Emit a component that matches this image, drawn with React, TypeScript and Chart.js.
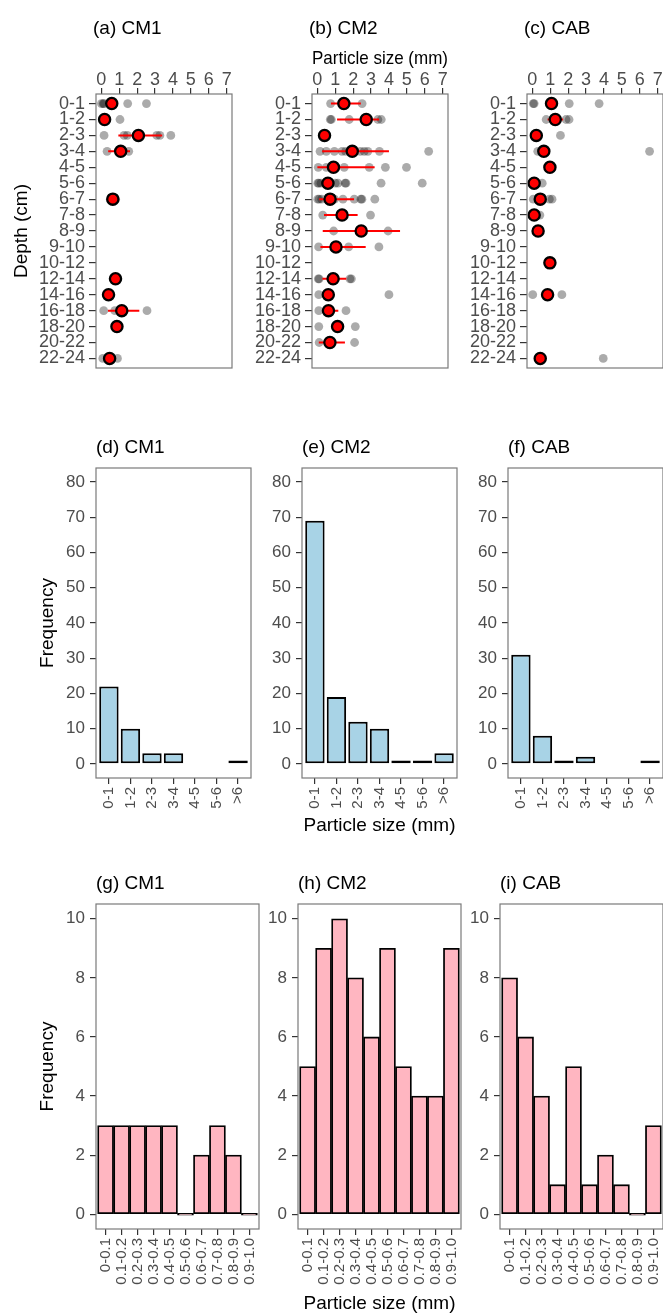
import React, { useEffect, useRef } from 'react';
import { Chart, registerables } from 'chart.js';

Chart.register(...registerables);

const FONT = '"Liberation Sans", Arial, Helvetica, sans-serif';
const TICK = '#4d4d4d';
Chart.defaults.font.family = FONT;
Chart.defaults.color = TICK;

// ---------- data: panels (a)-(c) ----------
const depthLabels = ['0-1', '1-2', '2-3', '3-4', '4-5', '5-6', '6-7', '7-8', '8-9', '9-10', '10-12', '12-14', '14-16', '16-18', '18-20', '20-22', '22-24'];
const sizeTicks = [0, 1, 2, 3, 4, 5, 6, 7];

const cm1Mean = [0.58, 0.18, 2.07, 1.08, null, null, 0.64, null, null, null, null, 0.79, 0.4, 1.14, 0.87, null, 0.46];
const cm1Lo = [null, null, 0.95, 0.38, null, null, null, null, null, null, null, null, null, 0.37, null, null, null];
const cm1Hi = [null, null, 3.4, 1.6, null, null, null, null, null, null, null, null, null, 2.12, null, null, null];
const cm1Particles = [
  [0.0, 0.1, 0.15, 1.47, 2.52], [0.18, 1.04], [0.15, 1.27, 1.45, 3.1, 3.27, 3.88], [0.32, 1.0, 1.53], [], [],
  [0.5, 0.64, 0.8], [], [], [], [], [0.79], [0.4], [0.13, 0.75, 2.55], [0.87], [], [0.08, 0.35, 0.46, 0.9],
];

const cm2Mean = [1.48, 2.73, 0.4, 1.95, 0.9, 0.59, 0.71, 1.38, 2.45, 1.04, null, 0.88, 0.61, 0.62, 1.13, 0.7, null];
const cm2Lo = [0.76, 1.1, null, 0.27, 0.0, null, 0.1, 0.37, 0.3, 0.17, null, 0.28, null, 0.3, null, 0.08, null];
const cm2Hi = [2.43, 3.45, null, 4.0, 3.2, null, 2.05, 2.25, 4.62, 2.7, null, 1.62, null, 1.17, null, 1.54, null];
const cm2Particles = [
  [0.74, 1.4, 2.5], [0.72, 0.78, 1.78, 3.38, 3.57], [0.4], [0.15, 0.5, 0.95, 1.38, 1.58, 2.4, 2.62, 2.82, 3.47, 6.22],
  [0.05, 0.5, 1.5, 2.9, 3.8, 4.98], [0.02, 0.08, 0.2, 0.45, 1.0, 1.15, 1.55, 1.6, 3.56, 5.86],
  [0.02, 0.1, 0.24, 0.96, 1.43, 2.06, 2.43, 2.49, 3.21], [0.3, 1.4, 2.97], [0.91, 2.45, 3.95], [0.07, 1.0, 1.75, 3.44],
  [], [0.05, 0.1, 0.9, 1.82, 1.9], [0.08, 0.6, 4.0], [0.08, 0.6, 1.6], [0.08, 1.12, 2.12], [0.1, 0.7, 2.08], [],
];

const cabMean = [1.07, 1.28, 0.22, 0.64, 0.98, 0.1, 0.44, 0.1, 0.32, null, 0.98, null, 0.85, null, null, null, 0.44];
const cabLo = [null, 0.85, null, null, null, null, null, null, null, null, null, null, null, null, null, null, null];
const cabHi = [null, 1.72, null, null, null, null, null, null, null, null, null, null, null, null, null, null, null];
const cabParticles = [
  [0.05, 0.1, 2.06, 3.73], [0.77, 1.2, 1.88, 2.05], [0.22, 1.57], [0.3, 0.64, 6.55], [0.98], [0.1, 0.55],
  [0.05, 0.44, 0.95, 1.1], [0.1, 0.42], [0.32], [], [0.98], [], [0.02, 0.85, 1.65], [], [], [], [0.44, 3.96],
];

// ---------- data: panels (d)-(f) ----------
const coarseLabels = ['0-1', '1-2', '2-3', '3-4', '4-5', '5-6', '>6'];
const coarseFreqTicks = [0, 10, 20, 30, 40, 50, 60, 70, 80];
const cm1Coarse = [22, 10, 3, 3, 0, 0, 1];
const cm2Coarse = [69, 19, 12, 10, 1, 1, 3];
const cabCoarse = [31, 8, 1, 2, 0, 0, 1];

// ---------- data: panels (g)-(i) ----------
const fineLabels = ['0-0.1', '0.1-0.2', '0.2-0.3', '0.3-0.4', '0.4-0.5', '0.5-0.6', '0.6-0.7', '0.7-0.8', '0.8-0.9', '0.9-1.0'];
const fineFreqTicks = [0, 2, 4, 6, 8, 10];
const cm1Fine = [3, 3, 3, 3, 3, 0, 2, 3, 2, 0];
const cm2Fine = [5, 9, 10, 8, 6, 9, 5, 4, 4, 9];
const cabFine = [8, 6, 4, 1, 5, 1, 2, 1, 0, 3];

// ---------- helpers ----------
const boxPlugin = {
  id: 'panelBox',
  afterDatasetsDraw(chart: any) {
    const { ctx, chartArea: a } = chart;
    ctx.save();
    ctx.strokeStyle = '#7a7a7a';
    ctx.lineWidth = 1.2;
    ctx.strokeRect(a.left, a.top, a.right - a.left, a.bottom - a.top);
    ctx.restore();
  },
};

const titlePlugin = {
  id: 'panelTitle',
  afterDraw(chart: any, _args: any, opts: any) {
    const { ctx, chartArea: a } = chart;
    ctx.save();
    ctx.font = `19px ${FONT}`;
    ctx.fillStyle = '#000';
    ctx.textAlign = 'left';
    ctx.textBaseline = 'alphabetic';
    ctx.fillText(opts.text, a.left + opts.dx, a.top - opts.dy);
    ctx.restore();
  },
};

const tickMarks = (len: number) => ({
  display: true, drawOnChartArea: false, drawTicks: true, tickLength: len, color: '#333333', lineWidth: 1.2,
});
const fixedTicks = (values: number[]) => (axis: any) => {
  axis.ticks = values.map((v) => ({ value: v }));
};

type Margins = { mL: number; mT: number; mR: number; mB: number };

function depthConfig(
  mean: (number | null)[], lo: (number | null)[], hi: (number | null)[], particles: number[][],
  title: string, yTitle: boolean, xTitle: boolean, m: Margins,
) {
  const meanPts: any[] = [];
  const errPts: any[] = [];
  const grayPts: any[] = [];
  depthLabels.forEach((_, i) => {
    const y = i + 1;
    const mv = mean[i];
    if (mv !== null) meanPts.push({ x: mv, y });
    const l = lo[i];
    const h = hi[i];
    if (l !== null && h !== null) errPts.push({ x: l, y }, { x: h, y }, { x: null, y: null });
    particles[i].forEach((v) => grayPts.push({ x: v, y }));
  });
  const axisH = 54;
  return {
    type: 'scatter',
    data: {
      datasets: [
        { label: 'Mean', data: meanPts, pointRadius: 5.6, pointBackgroundColor: '#ff0000', pointBorderColor: '#000000', pointBorderWidth: 2.3, order: 0 },
        { label: 'Range', data: errPts, showLine: true, spanGaps: false, borderColor: '#ff0000', borderWidth: 2, pointRadius: 0, order: 1 },
        { label: 'Particles', data: grayPts, pointRadius: 4.4, pointBackgroundColor: 'rgba(0,0,0,0.33)', pointBorderColor: 'rgba(0,0,0,0)', pointBorderWidth: 0, order: 2 },
      ],
    },
    options: {
      animation: false,
      responsive: false,
      layout: { padding: { top: m.mT - axisH, left: 0, right: m.mR, bottom: m.mB } },
      plugins: { legend: { display: false }, tooltip: { enabled: false }, panelTitle: { text: title, dx: -3, dy: 60 } },
      scales: {
        x: {
          type: 'linear', position: 'top', min: -0.3, max: 7.3, bounds: 'data',
          afterBuildTicks: fixedTicks(sizeTicks),
          afterFit: (s: any) => { s.height = axisH; },
          ticks: { font: { size: 18, lineHeight: 0.9 }, padding: 0, color: TICK, autoSkip: false, maxRotation: 0 },
          grid: tickMarks(6),
          border: { display: false },
          title: { display: xTitle, text: 'Particle size (mm)', color: '#000', font: { size: 19, lineHeight: 1.2 }, padding: { top: 7, bottom: 0 } },
        },
        y: {
          type: 'linear', reverse: true, min: 0.4, max: 17.6, bounds: 'data',
          afterBuildTicks: fixedTicks(depthLabels.map((_, i) => i + 1)),
          afterFit: (s: any) => { s.width = m.mL; },
          ticks: { font: { size: 18 }, padding: 4, color: TICK, autoSkip: false, callback: (v: any) => depthLabels[Number(v) - 1] },
          grid: tickMarks(7),
          border: { display: false },
          title: { display: yTitle, text: 'Depth (cm)', color: '#000', font: { size: 19, lineHeight: 1.2 }, padding: { top: 10.6, bottom: 0 } },
        },
      },
    },
    plugins: [boxPlugin, titlePlugin],
  };
}

function histConfig(
  counts: number[], labels: string[], freqTicks: number[], yMin: number, yMax: number,
  color: string, barPct: number, minBar: number, borderW: number, title: string, yTitle: boolean, xTitle: boolean,
  m: Margins, xTitlePad: number,
) {
  return {
    type: 'bar',
    data: {
      datasets: [{
        label: 'Frequency',
        data: counts.map((c, i) => ({ x: i + 1, y: c })),
        backgroundColor: color, borderColor: '#000000', borderWidth: borderW, borderSkipped: false,
        categoryPercentage: 1, barPercentage: barPct, minBarLength: minBar,
      }],
    },
    options: {
      animation: false,
      responsive: false,
      layout: { padding: { top: m.mT, left: 0, right: m.mR, bottom: 0 } },
      plugins: { legend: { display: false }, tooltip: { enabled: false }, panelTitle: { text: title, dx: 0, dy: 15 } },
      scales: {
        x: {
          type: 'linear', position: 'bottom', min: 0.4, max: labels.length + 0.6, bounds: 'data', offset: false,
          afterBuildTicks: fixedTicks(labels.map((_, i) => i + 1)),
          afterFit: (s: any) => { s.height = m.mB; },
          ticks: { font: { size: 15, lineHeight: 1.1 }, padding: 3, color: TICK, autoSkip: false, minRotation: 90, maxRotation: 90, callback: (v: any) => labels[Number(v) - 1] },
          grid: { ...tickMarks(6), offset: false },
          border: { display: false },
          title: { display: xTitle, text: 'Particle size (mm)', color: '#000', font: { size: 19, lineHeight: 1.2 }, padding: { top: 0, bottom: xTitlePad } },
        },
        y: {
          type: 'linear', min: yMin, max: yMax, bounds: 'data',
          afterBuildTicks: fixedTicks(freqTicks),
          afterFit: (s: any) => { s.width = m.mL; },
          ticks: { font: { size: 17 }, padding: 5, color: TICK, autoSkip: false },
          grid: tickMarks(6),
          border: { display: false },
          title: { display: yTitle, text: 'Frequency', color: '#000', font: { size: 19, lineHeight: 1.2 }, padding: { top: 36.6, bottom: 0 } },
        },
      },
    },
    plugins: [boxPlugin, titlePlugin],
  };
}

type Rect = { x: number; y: number; w: number; h: number };

function Panel({ rect, m, build }: { rect: Rect; m: Margins; build: () => any }) {
  const ref = useRef<HTMLCanvasElement>(null);
  const w = m.mL + rect.w + m.mR;
  const h = m.mT + rect.h + m.mB;
  useEffect(() => {
    const chart = new Chart(ref.current as HTMLCanvasElement, build());
    return () => chart.destroy();
  }, []);
  return (
    <canvas
      ref={ref}
      width={w}
      height={h}
      style={{ position: 'absolute', left: rect.x - m.mL, top: rect.y - m.mT, width: w, height: h }}
    />
  );
}

// plot-area rectangles (page pixels)
const R1 = { y: 94, h: 274, w: 136 };
const R2 = { y: 468, h: 310, w: 155 };
const R3 = { y: 904, h: 325, w: 163 };

export default function App() {
  const m1a: Margins = { mL: 96, mT: 94, mR: 8, mB: 16 };
  const m1: Margins = { mL: 80, mT: 94, mR: 8, mB: 16 };
  const m2a: Margins = { mL: 96, mT: 28, mR: 14, mB: 60 };
  const m2: Margins = { mL: 60, mT: 28, mR: 14, mB: 60 };
  const m3a: Margins = { mL: 96, mT: 28, mR: 14, mB: 86 };
  const m3: Margins = { mL: 60, mT: 28, mR: 14, mB: 86 };
  const blue = '#a8d3e6';
  const pink = '#ffb6c1';
  return (
    <div style={{ position: 'absolute', left: 0, top: 0, width: 663, height: 1313, overflow: 'hidden', background: '#ffffff' }}>
      <Panel rect={{ x: 96, ...R1 }} m={m1a} build={() => depthConfig(cm1Mean, cm1Lo, cm1Hi, cm1Particles, '(a) CM1', true, false, m1a)} />
      <Panel rect={{ x: 312, ...R1 }} m={m1} build={() => depthConfig(cm2Mean, cm2Lo, cm2Hi, cm2Particles, '(b) CM2', false, true, m1)} />
      <Panel rect={{ x: 527, ...R1 }} m={m1} build={() => depthConfig(cabMean, cabLo, cabHi, cabParticles, '(c) CAB', false, false, m1)} />

      <Panel rect={{ x: 96, ...R2 }} m={m2a} build={() => histConfig(cm1Coarse, coarseLabels, coarseFreqTicks, -4, 84, blue, 0.9, 0, 2, '(d) CM1', true, false, m2a, 0.6)} />
      <Panel rect={{ x: 302, ...R2 }} m={m2} build={() => histConfig(cm2Coarse, coarseLabels, coarseFreqTicks, -4, 84, blue, 0.9, 0, 2, '(e) CM2', false, true, m2, 0.6)} />
      <Panel rect={{ x: 508, ...R2 }} m={m2} build={() => histConfig(cabCoarse, coarseLabels, coarseFreqTicks, -4, 84, blue, 0.9, 0, 2, '(f) CAB', false, false, m2, 0.6)} />

      <Panel rect={{ x: 96, ...R3 }} m={m3a} build={() => histConfig(cm1Fine, fineLabels, fineFreqTicks, -0.5, 10.5, pink, 1, 2, 1.8, '(g) CM1', true, false, m3a, 0)} />
      <Panel rect={{ x: 298, ...R3 }} m={m3} build={() => histConfig(cm2Fine, fineLabels, fineFreqTicks, -0.5, 10.5, pink, 1, 2, 1.8, '(h) CM2', false, true, m3, 0)} />
      <Panel rect={{ x: 500, ...R3 }} m={m3} build={() => histConfig(cabFine, fineLabels, fineFreqTicks, -0.5, 10.5, pink, 1, 2, 1.8, '(i) CAB', false, false, m3, 0)} />
    </div>
  );
}
